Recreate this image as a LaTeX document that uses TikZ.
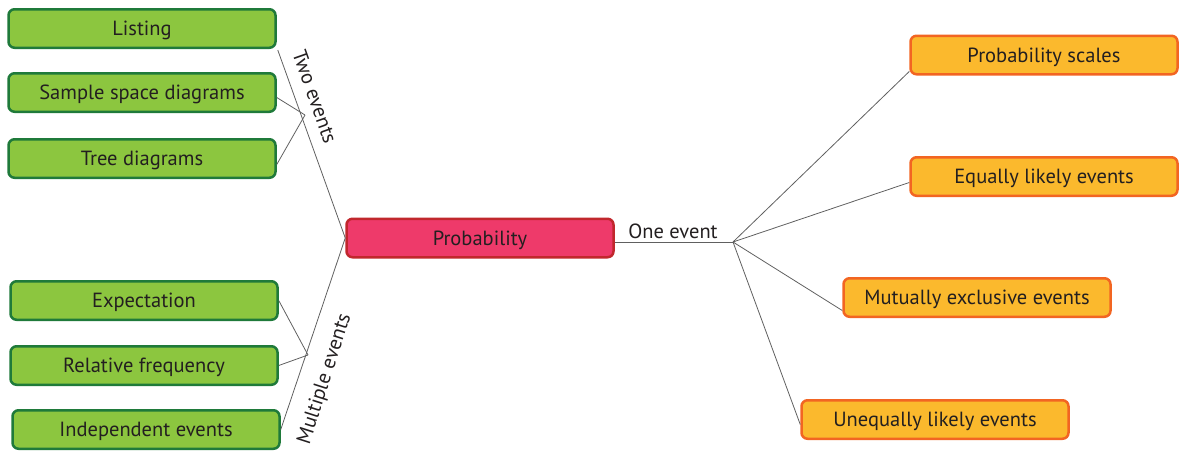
\documentclass[tikz,border=0pt]{standalone}
\usepackage{fontspec}
\setmainfont{PT Sans}
\definecolor{gfill}{HTML}{8CC63F}
\definecolor{gdraw}{HTML}{1F7A3A}
\definecolor{rfill}{HTML}{EE3A6A}
\definecolor{rdraw}{HTML}{C1272D}
\definecolor{ofill}{HTML}{FBB92D}
\definecolor{odraw}{HTML}{F26522}
\definecolor{txt}{HTML}{231F20}
\definecolor{conn}{HTML}{606060}
\begin{document}
\begin{tikzpicture}[x=1pt,y=-1pt,
  box/.style={rectangle,rounded corners=6pt,line width=2.5pt,minimum width=267pt,minimum height=38.5pt,inner sep=0pt,text height=14.3pt,text depth=0pt,font=\fontsize{20.5}{24}\selectfont,text=txt},
  gbox/.style={box,fill=gfill,draw=gdraw},
  rbox/.style={box,fill=rfill,draw=rdraw},
  obox/.style={box,fill=ofill,draw=odraw},
  link/.style={draw=conn,line width=0.8pt},
  lab/.style={font=\fontsize{20.5}{24}\selectfont,text=txt,inner sep=0pt}]
\useasboundingbox (0,0) rectangle (1185,450);
\node[gbox] (L) at (142,28.5) {Listing};
\node[gbox] (S) at (142,92.5) {Sample space diagrams};
\node[gbox] (T) at (142,158.5) {Tree diagrams};
\node[gbox] (E) at (144,300.5) {Expectation};
\node[gbox] (R) at (144,365.5) {Relative frequency};
\node[gbox] (I) at (146,429.5) {Independent events};
\node[rbox] (P) at (480,238) {Probability};
\node[obox] (PS) at (1044,55) {Probability scales};
\node[obox] (EL) at (1044,176.5) {Equally likely events};
\node[obox] (ME) at (977,297.5) {Mutually exclusive events};
\node[obox] (UL) at (935,419.5) {Unequally likely events};
\coordinate (J1) at (305,115);
\coordinate (J2) at (308,355);
\coordinate (H) at (733,242);
% two events
\draw[link] ([xshift=1pt,yshift=-1pt]L.south east) -- (P.west);
\draw[link] ([yshift=-5pt]S.east) -- (J1);
\draw[link] ([yshift=-6pt]T.east) -- (J1);
% multiple events
\draw[link] (P.west) -- (I.east);
\draw[link] (E.east) -- (J2);
\draw[link] (R.east) -- (J2);
% one event
\draw[link] ([yshift=-4pt]P.east) -- (H);
\draw[link] (H) -- ([yshift=4pt]PS.south west);
\draw[link] (H) -- ([yshift=-6pt]EL.west);
\draw[link] (H) -- ([yshift=-13pt]ME.west);
\draw[link] (H) -- ([yshift=-5pt]UL.west);
% labels
\node[lab,rotate=-70.5] (tw) at (315,97) {Two events};
\node[lab,rotate=72.2] (mu) at (325,379) {Multiple events};
\node[lab] (on) at (673,231) {One event};
\end{tikzpicture}
\end{document}
